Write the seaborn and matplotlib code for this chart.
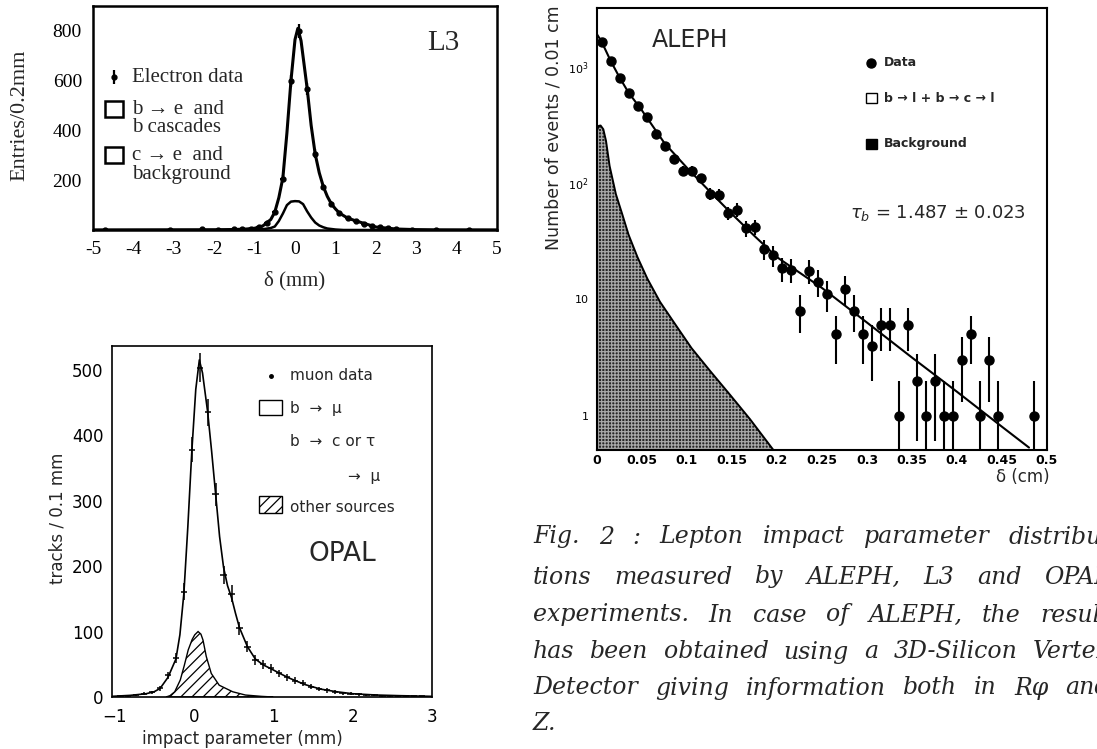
import numpy as np
import matplotlib
matplotlib.use("Agg")
import matplotlib.pyplot as plt
import seaborn as sns
from matplotlib.ticker import FixedLocator, FixedFormatter, MultipleLocator, LogLocator, NullFormatter
from matplotlib.patches import Rectangle

# ---------------- L3 panel data ----------------
l3_fit_x = [-5.0, -2.0, -1.5, -1.2, -1.0, -0.8, -0.6, -0.5, -0.4, -0.3, -0.2, -0.1, 0.0, 0.07,
            0.15, 0.3, 0.4, 0.5, 0.6, 0.7, 0.8, 0.9, 1.0, 1.1, 1.3, 1.5, 1.7, 2.0, 2.5, 3.0, 3.5, 5.0]
l3_fit_y = [0, 1, 2, 4, 7, 16, 42, 72, 130, 210, 390, 600, 765, 810,
            760, 570, 420, 305, 230, 175, 135, 105, 85, 68, 48, 37, 27, 12, 4, 1.5, 0.5, 0]
l3_ce_x = [-5.0, -1.2, -0.8, -0.6, -0.5, -0.4, -0.3, -0.2, -0.1, 0.0, 0.1, 0.2, 0.3, 0.4,
           0.5, 0.6, 0.7, 0.8, 1.0, 1.2, 5.0]
l3_ce_y = [0, 0, 3, 8, 14, 36, 66, 100, 114, 116, 115, 104, 75, 50,
           30, 18, 11, 6, 2, 0, 0]
l3_data_x = [-4.7, -3.1, -2.3, -1.9, -1.5, -1.3, -1.1, -0.9, -0.7, -0.5, -0.3, -0.1, 0.1, 0.3,
             0.5, 0.7, 0.9, 1.1, 1.3, 1.5, 1.7, 1.9, 2.1, 2.3, 2.5, 2.9, 3.5, 4.3]
l3_data_y = [2, 2, 3, 2, 3, 4, 6, 12, 30, 72, 206, 598, 800, 568,
             306, 172, 105, 68, 47, 36, 26, 16, 11, 7, 4, 2, 1, 1]
l3_data_err = [2, 2, 2, 2, 2, 2, 3, 4, 6, 9, 15, 25, 28, 24,
               18, 13, 10, 8, 7, 6, 5, 4, 3, 3, 2, 2, 1, 1]
l3_xticks = [-5, -4, -3, -2, -1, 0, 1, 2, 3, 4, 5]
l3_xlabels = ["-5", "-4", "-3", "-2", "-1", "0", "1", "2", "3", "4", "5"]
l3_yticks = [200, 400, 600, 800]

# ---------------- ALEPH panel data ----------------
aleph_x = [0.005, 0.015, 0.025, 0.035, 0.045, 0.055, 0.065, 0.075, 0.085, 0.095,
           0.105, 0.115, 0.125, 0.135, 0.145, 0.155, 0.165, 0.175, 0.185, 0.195,
           0.205, 0.215, 0.225, 0.235, 0.245, 0.255, 0.265, 0.275, 0.285, 0.295,
           0.305, 0.315, 0.325, 0.335, 0.345, 0.355, 0.365, 0.375, 0.385, 0.395,
           0.405, 0.415, 0.425, 0.435, 0.445, 0.485]
aleph_y = [1646, 1120, 803, 589, 463, 369, 265, 210, 160, 128,
           128, 110, 81, 79, 55, 59, 41, 42, 27, 24,
           18.5, 18, 8, 17.6, 14.2, 11.1, 5, 12.3, 8, 5,
           4, 6, 6, 1, 6, 2, 1, 2, 1, 1,
           3, 5, 1, 3, 1, 1]
aleph_err = [41, 33, 28, 24, 22, 19, 16, 14.5, 12.6, 11.3,
             11.3, 10.5, 9, 8.9, 7.4, 7.7, 6.4, 6.5, 5.2, 4.9,
             4.3, 4.2, 2.9, 4.2, 3.8, 3.3, 2.2, 3.5, 2.8, 2.2,
             2.0, 2.4, 2.4, 1.0, 2.4, 1.4, 1.0, 1.4, 1.0, 1.0,
             1.7, 2.2, 1.0, 1.7, 1.0, 1.0]
aleph_fit_x = [0.0, 0.005, 0.015, 0.025, 0.035, 0.05, 0.065, 0.075, 0.1, 0.125, 0.15,
               0.175, 0.2, 0.25, 0.3, 0.35, 0.4, 0.45, 0.48]
aleph_fit_y = [1900, 1650, 1130, 810, 600, 420, 285, 220, 135, 85, 54,
               35, 23, 12.5, 6.3, 3.15, 1.6, 0.8, 0.53]
aleph_bg_x = [0.0, 0.002, 0.004, 0.007, 0.010, 0.014, 0.021, 0.028, 0.035, 0.045,
              0.056, 0.070, 0.085, 0.105, 0.126, 0.148, 0.170, 0.196]
aleph_bg_y = [285, 310, 312, 290, 230, 140, 80, 54, 36, 23,
              15, 9.5, 6.4, 3.8, 2.4, 1.5, 0.93, 0.505]
aleph_xticks = [0, 0.05, 0.1, 0.15, 0.2, 0.25, 0.3, 0.35, 0.4, 0.45, 0.5]
aleph_xlabels = ["0", "0.05", "0.1", "0.15", "0.2", "0.25", "0.3", "0.35", "0.4", "0.45", "0.5"]
aleph_yticks = [1, 10, 100, 1000]
aleph_ylabels = ["1", "10", r"$10^2$", r"$10^3$"]

# ---------------- OPAL panel data ----------------
opal_x = [-0.925, -0.825, -0.725, -0.625, -0.525, -0.425, -0.325, -0.225, -0.125, -0.025,
          0.075, 0.175, 0.275, 0.375, 0.475, 0.575, 0.675, 0.775, 0.875, 0.975,
          1.075, 1.175, 1.275, 1.375, 1.475, 1.575, 1.675, 1.775, 1.875, 1.975,
          2.075, 2.175, 2.275, 2.375, 2.475, 2.575, 2.675, 2.775, 2.875]
opal_y = [1, 2, 3, 5, 7, 13, 33, 59, 161, 378,
          503, 435, 310, 187, 158, 105, 77, 56, 50, 44,
          36, 30, 25, 22, 16, 12, 10, 8, 6, 5,
          4, 3, 3, 2, 2, 2, 1, 1, 1]
opal_err = [1, 1.4, 1.7, 2.2, 2.6, 3.6, 5.7, 7.7, 12.7, 19.4,
            22.4, 20.9, 17.6, 13.7, 12.6, 10.2, 8.8, 7.5, 7.1, 6.6,
            6, 5.5, 5, 4.7, 4, 3.5, 3.2, 2.8, 2.4, 2.2,
            2, 1.7, 1.7, 1.4, 1.4, 1.4, 1, 1, 1]
opal_fit_x = [-1.03, -0.8, -0.6, -0.5, -0.425, -0.325, -0.225, -0.175, -0.125, -0.075,
              -0.025, 0.025, 0.07, 0.11, 0.175, 0.225, 0.275, 0.325, 0.375, 0.425,
              0.475, 0.525, 0.575, 0.675, 0.775, 0.875, 0.975, 1.1, 1.2, 1.4,
              1.6, 1.8, 2.0, 2.3, 2.6, 3.0]
opal_fit_y = [1, 2.5, 5, 8, 13, 30, 58, 95, 158, 260,
              375, 470, 515, 495, 435, 375, 310, 245, 198, 170,
              152, 128, 106, 77, 58, 49, 43, 35, 29, 19,
              12, 8, 5, 3, 2, 1]
opal_other_x = [-0.35, -0.3, -0.24, -0.17, -0.12, -0.07, -0.02, 0.012, 0.054, 0.09,
                0.116, 0.157, 0.22, 0.32, 0.49, 0.65, 0.85, 1.0]
opal_other_y = [0, 2, 8, 26, 48, 72, 88, 95, 100, 96,
                87, 62, 36, 18, 8, 3, 1, 0]
opal_xticks = [-1, 0, 1, 2, 3]
opal_xlabels = ["\u22121", "0", "1", "2", "3"]
opal_yticks = [0, 100, 200, 300, 400, 500]

caption_lines = [
    "Fig. 2 : Lepton impact parameter distribu-",
    "tions measured by ALEPH, L3 and OPAL",
    "experiments. In case of ALEPH, the result",
    "has been obtained using a 3D-Silicon Vertex",
    "Detector giving information both in R\u03c6 and",
    "Z.",
]

# ---------------- figure ----------------
sns.set_style("white")
plt.rcParams["font.family"] = ["DejaVu Sans"]
plt.rcParams["axes.unicode_minus"] = False
plt.rcParams["hatch.linewidth"] = 0.9

W, H = 1097, 749
fig = plt.figure(figsize=(W / 100, H / 100), dpi=100)
fig.patch.set_facecolor("white")

SERIF = ["Liberation Serif", "DejaVu Serif"]
SANS = ["DejaVu Sans"]


def add_ax(l, t, r, b):
    return fig.add_axes([l / W, 1 - b / H, (r - l) / W, (b - t) / H])


def ftext(px, py, s, **kw):
    return fig.text(px / W, 1 - py / H, s, **kw)


def axfrac(box, px, py):
    return ((px - box["l"]) / (box["r"] - box["l"]), (box["b"] - py) / (box["b"] - box["t"]))


# ======== L3 ========
L3 = dict(l=93, t=6, r=497, b=230)
ax1 = add_ax(L3["l"], L3["t"], L3["r"], L3["b"])
sns.lineplot(x=l3_fit_x, y=l3_fit_y, ax=ax1, color="black", lw=2.2)
sns.lineplot(x=l3_ce_x, y=l3_ce_y, ax=ax1, color="black", lw=1.8)
ax1.errorbar(l3_data_x, l3_data_y, yerr=l3_data_err, xerr=0.06, fmt="o", ms=3.5,
             color="black", elinewidth=1.6, capsize=0)
ax1.set_xlim(-5, 5)
ax1.set_ylim(0, 900)
ax1.xaxis.set_major_locator(FixedLocator(l3_xticks))
ax1.xaxis.set_major_formatter(FixedFormatter(l3_xlabels))
ax1.xaxis.set_minor_locator(MultipleLocator(0.2))
ax1.yaxis.set_major_locator(FixedLocator(l3_yticks))
ax1.yaxis.set_minor_locator(MultipleLocator(40))
ax1.tick_params(which="both", direction="out", top=False, right=False, colors="black",
                labelfontfamily="Liberation Serif")
ax1.tick_params(which="major", length=5, width=1.4, labelsize=14, pad=3)
ax1.tick_params(which="minor", length=3, width=1.0)
for sp in ax1.spines.values():
    sp.set_linewidth(1.8)
    sp.set_color("black")
ax1.set_xlabel("")
ax1.set_ylabel("")

mx, my = axfrac(L3, 113.5, 77)
ax1.errorbar([mx], [my], yerr=[0.03], fmt="o", ms=3.5, color="black", elinewidth=1.6,
             capsize=0, transform=ax1.transAxes, clip_on=False)
ax1.text(*axfrac(L3, 132, 77), "Electron data", transform=ax1.transAxes, family=SERIF,
         fontsize=15, va="center", ha="left")
for (cy, l1, l2) in [(109, "b \u2192 e  and", "b cascades"), (155, "c \u2192 e  and", "background")]:
    bx0, by0 = axfrac(L3, 105, cy + 8)
    bx1, by1 = axfrac(L3, 123, cy - 8)
    ax1.add_patch(Rectangle((bx0, by0), bx1 - bx0, by1 - by0, transform=ax1.transAxes,
                            facecolor="white", edgecolor="black", lw=1.8))
    ax1.text(*axfrac(L3, 132, cy), l1, transform=ax1.transAxes, family=SERIF, fontsize=15,
             va="center", ha="left")
    ax1.text(*axfrac(L3, 132, cy + 19), l2, transform=ax1.transAxes, family=SERIF, fontsize=15,
             va="center", ha="left")

ftext(443, 43, "L3", family=SERIF, fontsize=21, ha="center", va="center")
ftext(20, 115, "Entries/0.2mm", family=SERIF, fontsize=16, rotation=90,
      ha="center", va="center")
ftext(295, 281, "\u03b4 (mm)", family=SERIF, fontsize=15, ha="center", va="center")

# ======== ALEPH ========
AL = dict(l=597, t=8, r=1047, b=450)
ax2 = add_ax(AL["l"], AL["t"], AL["r"], AL["b"])
ax2.set_yscale("log", nonpositive="clip")
ax2.set_xlim(0, 0.5)
ax2.set_ylim(0.505, 3200)
poly_x = [0.0] + aleph_bg_x + [aleph_bg_x[-1]]
poly_y = [0.3] + aleph_bg_y + [0.3]
ax2.fill(poly_x, poly_y, facecolor="#262626", edgecolor="#a8a8a8", hatch="+++++", lw=0)
sns.lineplot(x=aleph_bg_x, y=aleph_bg_y, ax=ax2, color="black", lw=1.4)
sns.lineplot(x=aleph_fit_x, y=aleph_fit_y, ax=ax2, color="black", lw=1.5)
ax2.errorbar(aleph_x, aleph_y, yerr=aleph_err, fmt="o", ms=6.5, color="black",
             elinewidth=1.5, capsize=0)
ax2.xaxis.set_major_locator(FixedLocator(aleph_xticks))
ax2.xaxis.set_major_formatter(FixedFormatter(aleph_xlabels))
ax2.xaxis.set_minor_locator(MultipleLocator(0.01))
ax2.yaxis.set_major_locator(FixedLocator(aleph_yticks))
ax2.yaxis.set_major_formatter(FixedFormatter(aleph_ylabels))
ax2.yaxis.set_minor_locator(LogLocator(base=10, subs=np.arange(2, 10)))
ax2.yaxis.set_minor_formatter(NullFormatter())
ax2.tick_params(which="both", direction="in", top=False, right=False, colors="black")
ax2.tick_params(axis="x", which="major", length=7, width=1.2, labelsize=9, pad=3)
ax2.tick_params(axis="y", which="major", length=8, width=1.2, labelsize=8, pad=6)
ax2.tick_params(which="minor", length=4, width=1.0)
for lbl in ax2.get_xticklabels():
    lbl.set_fontweight("bold")
for sp in ax2.spines.values():
    sp.set_linewidth(1.5)
    sp.set_color("black")
ax2.set_xlabel("")
ax2.set_ylabel("")

ax2.text(*axfrac(AL, 690, 40), "ALEPH", transform=ax2.transAxes, fontsize=17,
         ha="center", va="center", family=SANS)
ax2.plot(*axfrac(AL, 871, 63), "o", ms=6.5, color="black", transform=ax2.transAxes)
ax2.text(*axfrac(AL, 884, 63), "Data", transform=ax2.transAxes, fontsize=9,
         ha="left", va="center", fontweight="bold")
for (cy, fc, lab) in [(98, "white", "b \u2192 l + b \u2192 c \u2192 l"), (144, "black", "Background")]:
    x0, y0 = axfrac(AL, 866, cy + 5)
    x1, y1 = axfrac(AL, 877, cy - 5)
    ax2.add_patch(Rectangle((x0, y0), x1 - x0, y1 - y0, transform=ax2.transAxes,
                            facecolor=fc, edgecolor="black", lw=1.0))
    ax2.text(*axfrac(AL, 884, cy), lab, transform=ax2.transAxes, fontsize=9,
             ha="left", va="center", fontweight="bold")
ax2.text(*axfrac(AL, 850, 213), r"$\tau_b$ = 1.487 $\pm$ 0.023", transform=ax2.transAxes,
         fontsize=13, ha="left", va="center")
ftext(553, 128, "Number of events / 0.01 cm", fontsize=12.5, rotation=90,
      ha="center", va="center")
ftext(1050, 477, "\u03b4 (cm)", fontsize=12, ha="right", va="center")

# ======== OPAL ========
OP = dict(l=112, t=345.5, r=432, b=697)
ax3 = add_ax(OP["l"], OP["t"], OP["r"], OP["b"])
ax3.set_xlim(-1.03, 3.0)
ax3.set_ylim(0, 537)
ax3.fill(opal_other_x, opal_other_y, facecolor="white", edgecolor="black", hatch="///", lw=1.0)
sns.lineplot(x=opal_fit_x, y=opal_fit_y, ax=ax3, color="black", lw=1.2)
ax3.errorbar(opal_x, opal_y, yerr=opal_err, xerr=0.04, fmt="none", ecolor="black",
             elinewidth=1.1, capsize=0)
ax3.xaxis.set_major_locator(FixedLocator(opal_xticks))
ax3.xaxis.set_major_formatter(FixedFormatter(opal_xlabels))
ax3.xaxis.set_minor_locator(MultipleLocator(0.2))
ax3.yaxis.set_major_locator(FixedLocator(opal_yticks))
ax3.yaxis.set_minor_locator(MultipleLocator(20))
ax3.tick_params(which="both", direction="in", top=False, right=False, colors="black")
ax3.tick_params(axis="x", which="major", length=8, width=1.1, labelsize=12, pad=8)
ax3.tick_params(axis="y", which="major", length=8, width=1.1, labelsize=12, pad=6)
ax3.tick_params(which="minor", length=4, width=0.9)
for sp in ax3.spines.values():
    sp.set_linewidth(1.2)
    sp.set_color("black")
ax3.set_xlabel("")
ax3.set_ylabel("")

ax3.plot(*axfrac(OP, 271, 376), "o", ms=2.5, color="black", transform=ax3.transAxes)
ax3.text(*axfrac(OP, 290, 376), "muon data", transform=ax3.transAxes, fontsize=11,
         ha="left", va="center")
x0, y0 = axfrac(OP, 259, 415)
x1, y1 = axfrac(OP, 282, 400)
ax3.add_patch(Rectangle((x0, y0), x1 - x0, y1 - y0, transform=ax3.transAxes,
                        facecolor="white", edgecolor="black", lw=1.0))
ax3.text(*axfrac(OP, 290, 409), "b  \u2192  \u03bc", transform=ax3.transAxes, fontsize=11,
         ha="left", va="center")
ax3.text(*axfrac(OP, 290, 442), "b  \u2192  c or \u03c4", transform=ax3.transAxes, fontsize=11,
         ha="left", va="center")
ax3.text(*axfrac(OP, 348, 476), "\u2192  \u03bc", transform=ax3.transAxes, fontsize=11,
         ha="left", va="center")
x0, y0 = axfrac(OP, 259, 513)
x1, y1 = axfrac(OP, 282, 496)
ax3.add_patch(Rectangle((x0, y0), x1 - x0, y1 - y0, transform=ax3.transAxes,
                        facecolor="white", edgecolor="black", hatch="///", lw=1.0))
ax3.text(*axfrac(OP, 290, 507), "other sources", transform=ax3.transAxes, fontsize=11,
         ha="left", va="center")
ax3.text(*axfrac(OP, 342, 554), "OPAL", transform=ax3.transAxes, fontsize=19,
         ha="center", va="center")
ftext(57, 518, "tracks / 0.1 mm", fontsize=12, rotation=90, ha="center", va="center")
ftext(242, 739, "impact parameter (mm)", fontsize=12, ha="center", va="center")

# ======== caption (justified lines, running past the right edge like the scan) ========
renderer = fig.canvas.get_renderer()
cap_y = [537, 577, 615, 652, 688, 723]
CAP_L, CAP_R = 533, 1110
cap_kw = dict(family=["DejaVu Serif"], style="italic", fontsize=17, ha="left", va="center")
for i, (yy, line) in enumerate(zip(cap_y, caption_lines)):
    words = line.split(" ")
    if i == len(caption_lines) - 1 or len(words) < 2:
        ftext(CAP_L, yy, line, **cap_kw)
        continue
    objs = [ftext(CAP_L, yy, w, **cap_kw) for w in words]
    widths = [o.get_window_extent(renderer).width for o in objs]
    gap = (CAP_R - CAP_L - sum(widths)) / (len(words) - 1)
    xpos = CAP_L
    for o, wdt in zip(objs, widths):
        o.set_x(xpos / W)
        xpos += wdt + gap

fig.savefig("out.png", dpi=100)
